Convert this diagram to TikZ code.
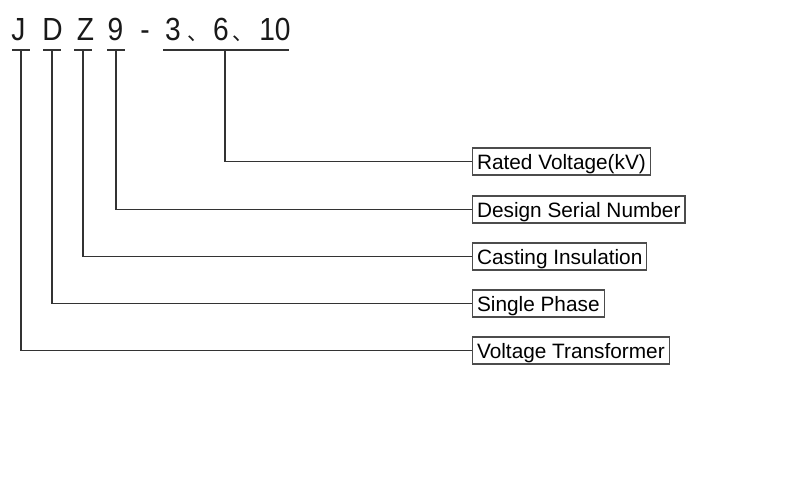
\documentclass[tikz,border=0pt]{standalone}
\usepackage{fontspec}
\setmainfont{Liberation Sans}
\newfontfamily\cjkfont{Noto Sans CJK SC}
\begin{document}
\begin{tikzpicture}[x=1pt,y=-1pt,
  titlechar/.style={anchor=base,inner sep=0pt,font=\fontsize{32}{32}\selectfont,xscale=0.88,transform shape,text=black!90},
  cjkcomma/.style={anchor=base,inner sep=0pt,font=\cjkfont\fontsize{21}{21}\selectfont,text=black!90},
  label/.style={draw=black!70,line width=1.1pt,anchor=west,inner xsep=4.5pt,inner ysep=0pt,minimum height=27pt,text height=21pt,text depth=6pt,font=\fontsize{20.8}{20.8}\selectfont},
  tick/.style={line width=1.7pt,draw=black!80},
  conn/.style={line width=1.7pt,draw=black!80}]
\useasboundingbox (0,0) rectangle (800,480);
\fill[white] (0,0) rectangle (800,480);
% title characters
\node[titlechar] (cJ) at (18.5,40) {J};
\node[titlechar] (cD) at (52.5,40) {D};
\node[titlechar] (cZ) at (85.5,40) {Z};
\node[titlechar] (c9) at (115.5,40) {9};
\node[titlechar] (cdash) at (145,40) {-};
\node[titlechar] (c3) at (173,40) {3};
\node[cjkcomma] (k1) at (197.5,40.5) {、};
\node[titlechar] (c6) at (221,40) {6};
\node[cjkcomma] (k2) at (243,40.5) {、};
\node[titlechar] (c10) at (275,40) {10};
% labels
\node[label] (rv) at (472,161.5) {Rated Voltage(kV)};
\node[label] (ds) at (472,209.5) {Design Serial Number};
\node[label] (ci) at (472,256.5) {Casting Insulation};
\node[label] (sp) at (472,303.5) {Single Phase};
\node[label] (vt) at (472,350.5) {Voltage Transformer};
% ticks
\coordinate (tJ) at (21,50);
\coordinate (tD) at (52,50);
\coordinate (tZ) at (83,50);
\coordinate (t9) at (116,50);
\coordinate (tV) at (225,50);
\draw[tick] (12,50) -- (30,50);
\draw[tick] (43,50) -- (61,50);
\draw[tick] (74,50) -- (92,50);
\draw[tick] (107,50) -- (125,50);
\draw[tick] (163,50) -- (289,50);
% connectors
\draw[conn] (tV) |- (rv.west);
\draw[conn] (t9) |- (ds.west);
\draw[conn] (tZ) |- (ci.west);
\draw[conn] (tD) |- (sp.west);
\draw[conn] (tJ) |- (vt.west);
\end{tikzpicture}
\end{document}
